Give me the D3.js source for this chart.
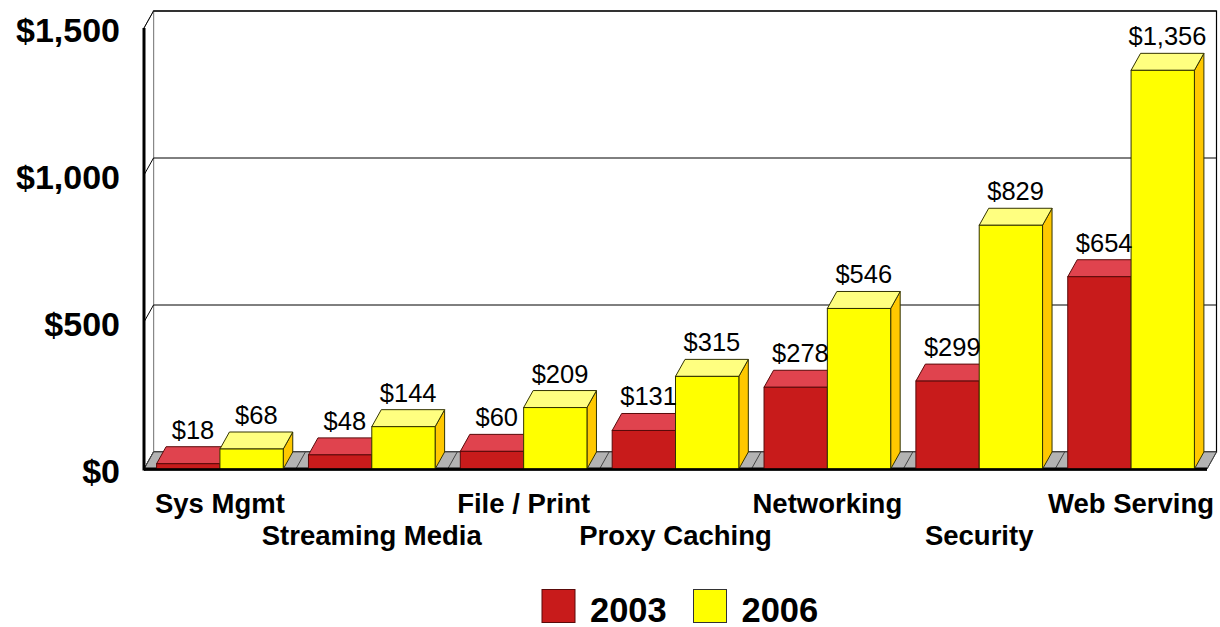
<!DOCTYPE html>
<html><head><meta charset="utf-8">
<script src="https://cdn.jsdelivr.net/npm/d3@7/dist/d3.min.js"></script>
<style>body{margin:0;background:#fff}svg{display:block;font-family:Arial,"Liberation Sans",sans-serif}</style>
</head><body>
<svg id="c" width="1220" height="627"></svg>
<script>
const categories = ["Sys Mgmt","Streaming Media","File / Print","Proxy Caching","Networking","Security","Web Serving"];
const seriesNames = ["2003","2006"];
const values2003 = [18,48,60,131,278,299,654];
const values2006 = [68,144,209,315,546,829,1356];
const yTicks = [0,500,1000,1500];
const yTickLabels = ["$0","$500","$1,000","$1,500"];

const svg = d3.select("#c");
const DX = 9.5, DY = -17;
const x0 = d3.scaleBand().domain(categories).range([144,1207]).paddingInner(0.166).paddingOuter(0.083);
const x1 = d3.scaleBand().domain(seriesNames).range([0,x0.bandwidth()]);
const y = d3.scaleLinear().domain([0,1500]).range([469,28]);
const colors = {
  "2003": {front:"#c81b1b", top:"#e0434e", side:"#9a1010", stroke:"#5a0a0a"},
  "2006": {front:"#ffff00", top:"#ffff80", side:"#ffc800", stroke:"#333300"}
};
const fmt = v => "$" + d3.format(",")(v);

// back wall
const xL = 144, xR = 1207;
svg.append("rect").attr("x",xL+DX).attr("y",y(1500)+DY).attr("width",xR-xL).attr("height",y(0)-y(1500))
  .attr("fill","#fff").attr("stroke","#000").attr("stroke-width",1.2);
// left wall
svg.append("path").attr("d",`M${xL},${y(0)}L${xL},${y(1500)}L${xL+DX},${y(1500)+DY}L${xL+DX},${y(0)+DY}Z`)
  .attr("fill","#fff").attr("stroke","#888").attr("stroke-width",1);
// gridlines
yTicks.forEach(t=>{
  svg.append("line").attr("x1",xL+DX).attr("x2",xR+DX).attr("y1",y(t)+DY).attr("y2",y(t)+DY)
    .attr("stroke","#000").attr("stroke-width",1);
  svg.append("line").attr("x1",xL).attr("x2",xL+DX).attr("y1",y(t)).attr("y2",y(t)+DY)
    .attr("stroke","#000").attr("stroke-width",1);
});
// floor
svg.append("path").attr("d",`M${xL},${y(0)}L${xR},${y(0)}L${xR+DX},${y(0)+DY}L${xL+DX},${y(0)+DY}Z`)
  .attr("fill","#b3b3b3").attr("stroke","#555").attr("stroke-width",1);
const step = x0.step();
d3.range(categories.length+1).forEach(i=>{
  const xx = xL + i*step;
  svg.append("line").attr("x1",xx).attr("y1",y(0)).attr("x2",xx+DX).attr("y2",y(0)+DY)
    .attr("stroke","#444").attr("stroke-width",1);
});
// left axis thick line and floor front line
svg.append("line").attr("x1",xL).attr("x2",xL).attr("y1",y(1500)).attr("y2",y(0)+1.5).attr("stroke","#000").attr("stroke-width",3);
svg.append("line").attr("x1",xL).attr("x2",xR).attr("y1",y(0)).attr("y2",y(0)).attr("stroke","#000").attr("stroke-width",3);

// bars
const data = categories.map((c,i)=>({cat:c, vals:[{s:"2003",v:values2003[i]},{s:"2006",v:values2006[i]}]}));
const g = svg.append("g");
data.forEach(d=>{
  d.vals.forEach(b=>{
    const bx = x0(d.cat)+x1(b.s), bw = x1.bandwidth(), by = y(b.v), b0 = y(0);
    const c = colors[b.s];
    g.append("path").attr("d",`M${bx+bw},${b0}L${bx+bw},${by}L${bx+bw+DX},${by+DY}L${bx+bw+DX},${b0+DY}Z`)
      .attr("fill",c.side).attr("stroke",c.stroke).attr("stroke-width",1);
    g.append("path").attr("d",`M${bx},${by}L${bx+bw},${by}L${bx+bw+DX},${by+DY}L${bx+DX},${by+DY}Z`)
      .attr("fill",c.top).attr("stroke",c.stroke).attr("stroke-width",1);
    g.append("rect").attr("x",bx).attr("y",by).attr("width",bw).attr("height",b0-by)
      .attr("fill",c.front).attr("stroke",c.stroke).attr("stroke-width",1);
  });
});
svg.append("line").attr("x1",xL).attr("x2",xR).attr("y1",y(0)+0.5).attr("y2",y(0)+0.5).attr("stroke","#000").attr("stroke-width",2.5);
// value labels
data.forEach(d=>{
  d.vals.forEach(b=>{
    const bx = x0(d.cat)+x1(b.s), bw = x1.bandwidth();
    svg.append("text").attr("x",bx+bw/2+DX/2).attr("y",y(b.v)+DY-8)
      .attr("text-anchor","middle").attr("font-size",25.5).attr("fill","#000").text(fmt(b.v));
  });
});
// y axis labels
yTicks.forEach((t,i)=>{
  svg.append("text").attr("x",120).attr("y",y(t)+13.5).attr("text-anchor","end")
    .attr("font-size",34).attr("font-weight","bold").text(yTickLabels[i]);
});
// category labels
categories.forEach((c,i)=>{
  svg.append("text").attr("x",x0(c)+x0.bandwidth()/2).attr("y", i%2===0 ? 512.5 : 545)
    .attr("text-anchor","middle").attr("font-size",27.5).attr("font-weight","bold").text(c);
});
// legend
const legX = [542,693.5];
seriesNames.forEach((s,i)=>{
  svg.append("rect").attr("x",legX[i]).attr("y",589.5).attr("width",33).attr("height",33)
    .attr("fill",colors[s].front).attr("stroke",i===0?"#5a0a0a":"#333").attr("stroke-width",1);
  svg.append("text").attr("x",legX[i]+48).attr("y",621.5).attr("font-size",34.5).attr("font-weight","bold").text(s);
});
</script>
</body></html>
